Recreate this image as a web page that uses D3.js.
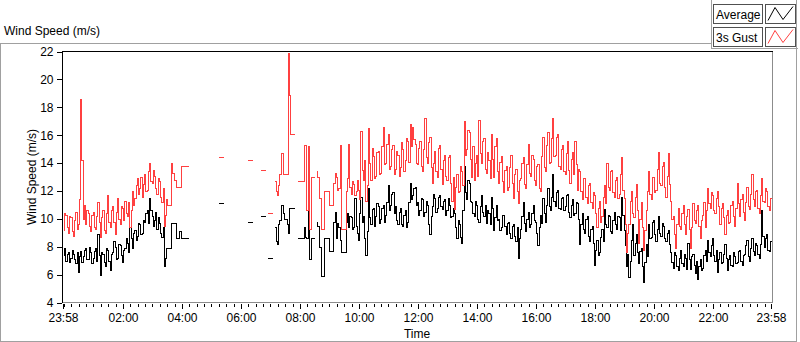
<!DOCTYPE html>
<html><head><meta charset="utf-8">
<script src="https://cdn.jsdelivr.net/npm/d3@7/dist/d3.min.js"></script>
<style>
body{margin:0;background:#fff;}
text{font-family:"Liberation Sans",Arial,sans-serif;font-size:12px;fill:#000;}
</style>
</head><body>
<svg id="chart" width="800" height="342"></svg>
<script>
// ---- data (2.5-minute samples starting 23:58; null = no data) ----
const seriesNames = ["Average", "3s Gust"];
const seriesColors = ["#000000", "#ff4040"];
const stepMinutes = 2.5;
const average = [
7.4,7.9,7.0,7.5,7.6,6.9,7.2,7.8,7.5,7.1,6.8,7.6,6.2,7.3,7.7,6.9,7.3,7.8,7.9,7.1,
7.1,8.0,7.6,6.8,7.2,7.7,7.9,7.0,8.9,7.4,6.0,7.6,7.5,6.9,6.6,7.9,7.8,7.0,6.3,7.5,
7.6,8.4,8.0,7.1,7.2,8.2,8.1,7.4,6.9,7.8,7.9,8.6,8.3,7.6,9.4,8.6,7.9,9.0,9.2,8.5,
8.8,9.7,9.6,8.9,9.0,9.9,9.8,10.4,10.6,9.7,11.5,10.6,10.2,9.5,9.9,10.5,9.3,10.1,9.7,9.0,
8.7,9.4,6.6,7.2,7.9,7.9,7.9,7.9,9.7,9.7,9.7,9.7,8.6,8.6,9.1,9.1,8.6,8.6,8.6,8.6,
8.6,8.6,null,null,null,null,null,null,null,null,null,null,null,null,null,null,null,null,null,null,
null,null,null,null,null,null,11.1,11.1,11.1,11.1,null,null,null,null,null,null,null,null,null,null,
null,null,null,null,null,null,null,null,null,null,9.8,9.8,9.8,9.8,null,null,null,null,null,null,
10.2,10.2,10.2,10.2,null,null,7.2,7.2,7.2,7.2,null,null,9.4,8.4,8.2,9.6,9.9,11.0,11.0,10.4,
10.0,10.0,9.6,9.0,10.8,10.8,10.8,10.8,null,null,8.6,8.6,8.6,8.6,8.6,8.6,9.4,8.7,8.6,11.0,
7.1,7.1,8.6,8.6,null,null,9.8,9.5,8.0,8.0,5.9,5.9,8.6,8.6,8.6,8.6,7.7,7.7,7.7,7.7,
9.8,10.5,8.6,9.7,9.4,8.5,7.6,7.6,7.6,7.6,9.8,10.4,9.4,10.2,10.1,9.3,9.4,11.5,9.5,9.0,
8.5,10.4,11.6,9.8,10.2,8.6,7.4,9.1,12.2,10.1,9.6,10.7,10.8,9.5,10.2,11.1,10.9,9.7,10.0,10.8,
11.0,9.8,10.3,11.2,12.4,10.6,11.0,11.8,11.9,10.4,10.9,9.9,9.6,10.5,10.8,9.6,9.5,10.3,10.6,9.4,
9.8,11.2,12.6,11.4,11.7,12.2,12.3,11.0,11.2,10.3,10.6,11.5,11.4,10.2,10.5,11.3,11.0,9.6,8.9,10.2,
10.9,11.8,11.5,10.5,10.8,11.6,11.7,10.9,10.7,11.3,11.4,10.3,10.6,11.5,11.0,10.1,10.2,10.8,10.4,9.4,
8.6,9.9,9.6,8.7,8.3,10.6,13.8,11.9,11.4,12.8,12.6,11.3,11.2,10.4,10.2,11.3,11.0,10.0,9.8,10.9,
11.7,10.5,10.2,11.0,9.7,10.6,10.4,9.6,11.6,10.8,9.2,10.1,11.0,9.9,10.0,9.2,9.4,10.3,10.3,9.5,
8.9,9.7,9.8,9.0,8.6,9.5,9.6,8.8,8.4,9.4,7.2,8.6,9.3,10.2,11.2,9.7,9.1,10.0,10.5,9.4,
9.6,10.4,11.0,9.9,9.8,9.0,8.1,9.4,10.3,9.7,11.5,10.4,9.8,11.0,12.2,10.9,10.6,11.6,13.2,11.3,
10.9,11.9,12.1,10.8,10.7,11.5,11.6,10.6,10.9,11.7,11.8,10.5,10.1,11.0,11.4,10.3,10.4,11.2,11.1,10.0,
8.2,9.6,10.4,9.3,9.0,10.0,10.2,8.8,8.4,9.3,9.5,8.3,6.7,7.8,8.5,7.4,7.6,8.7,9.3,8.4,
10.7,9.6,9.4,10.3,10.2,9.1,9.0,9.9,10.5,9.6,9.3,10.2,10.1,9.2,11.6,10.3,9.2,8.1,6.6,7.5,
5.8,7.0,8.5,9.6,7.4,8.3,8.9,7.6,6.8,7.7,7.9,6.6,5.5,6.9,8.2,7.3,9.6,8.6,8.7,9.8,
9.9,8.9,8.4,9.3,10.2,9.0,8.8,9.7,9.5,8.6,8.4,9.0,9.2,8.2,7.6,6.9,6.5,7.6,7.4,6.6,
6.3,7.2,7.8,6.8,6.6,7.5,7.2,6.4,8.3,7.1,6.4,7.3,7.5,6.7,6.1,7.0,5.7,6.6,7.1,6.3,
6.5,7.4,7.8,7.0,8.5,7.6,7.3,8.1,8.6,7.4,7.0,7.8,6.2,7.1,7.6,6.8,6.9,7.5,8.2,7.2,
6.3,7.1,7.4,6.7,6.6,7.6,7.3,6.8,6.9,7.7,7.8,7.0,6.7,7.4,7.5,8.1,8.5,7.3,7.0,7.9,
8.6,7.7,7.4,8.3,8.1,7.5,7.2,8.2,10.6,8.8,8.0,8.6,8.9,7.8,7.7,8.4
];
const gust = [
9.2,10.4,10.3,9.4,9.0,10.2,10.1,9.1,8.8,9.9,10.5,9.3,9.6,11.4,18.6,14.2,10.0,11.0,9.6,10.6,
10.4,9.5,9.1,10.3,10.5,9.4,9.3,10.2,11.2,9.8,8.7,10.1,10.6,9.2,9.0,10.4,11.7,9.8,9.4,10.6,
10.9,9.8,8.9,10.5,11.5,10.0,9.6,10.9,10.8,9.9,11.3,10.4,10.2,11.2,9.4,10.6,12.0,11.0,11.5,12.4,
12.9,11.8,12.2,13.0,11.6,12.5,13.2,12.0,12.1,13.4,14.0,12.7,12.6,13.5,13.1,12.2,11.8,12.9,12.7,11.6,
11.2,12.2,9.5,10.3,11.4,11.0,11.0,11.0,14.0,13.3,12.8,12.8,12.3,12.3,12.3,12.3,13.8,13.8,13.8,13.8,
13.8,13.8,null,null,null,null,null,null,null,null,null,null,null,null,null,null,null,null,null,null,
null,null,null,null,null,null,14.4,14.4,14.4,14.4,null,null,null,null,null,null,null,null,null,null,
null,null,null,null,null,null,null,null,null,null,14.2,14.2,14.2,14.2,null,null,null,null,null,null,
13.5,13.5,13.5,13.5,null,null,10.4,10.4,10.4,10.4,null,null,12.7,12.0,11.7,12.4,13.2,14.7,14.7,13.2,
13.2,13.2,13.2,21.9,18.9,16.1,16.1,16.1,null,null,12.7,12.7,12.7,12.7,12.7,12.7,15.3,15.3,10.6,15.2,
9.3,9.3,13.0,13.0,null,null,13.4,13.0,11.5,11.5,9.3,9.3,12.0,12.0,12.0,12.0,11.0,11.0,11.0,11.0,
12.6,13.3,13.0,12.1,12.2,15.3,9.3,9.3,9.3,9.3,12.0,12.9,15.4,12.3,11.8,12.7,12.5,11.7,12.0,12.8,
12.1,11.4,16.3,13.5,12.8,14.2,11.3,12.4,16.5,14.0,12.8,15.1,14.5,12.9,13.1,14.8,14.9,13.2,13.3,15.2,
16.6,13.9,14.0,15.4,16.1,13.6,13.8,15.0,15.3,13.2,13.6,14.9,14.6,13.1,13.7,15.5,15.0,13.4,14.2,15.8,
15.6,14.1,16.8,15.2,16.6,15.7,15.4,14.0,13.9,15.1,15.6,13.8,13.4,15.0,17.2,14.4,14.0,15.5,15.9,13.7,
12.6,14.0,14.9,13.4,13.0,15.1,15.3,13.6,12.5,14.2,14.6,13.1,12.8,14.4,14.6,12.6,11.3,13.0,10.7,12.3,
13.2,11.9,12.0,13.8,13.4,12.4,17.0,14.6,15.0,16.4,16.2,14.3,13.0,15.2,12.8,14.0,14.6,13.1,17.1,14.7,
14.0,15.6,15.8,13.6,13.3,14.8,14.2,12.9,16.1,14.3,13.0,15.2,15.8,13.4,12.6,14.1,14.5,12.7,11.9,13.5,
13.8,12.1,12.3,13.7,14.6,12.6,11.5,13.2,13.6,12.0,11.1,12.8,12.9,14.0,14.4,12.5,12.2,13.9,15.4,13.3,
13.1,14.6,14.3,12.8,12.4,13.8,13.9,12.2,12.0,14.5,15.9,13.7,13.4,15.3,16.2,14.0,14.1,15.8,17.2,14.5,
14.6,15.9,16.1,13.8,13.6,15.0,15.3,13.4,13.2,14.7,15.6,13.5,12.6,14.3,14.8,13.2,15.6,13.9,12.1,13.6,
13.4,12.0,11.4,12.9,12.9,11.6,11.1,12.4,12.6,11.2,10.8,11.9,11.7,10.4,9.4,10.8,11.3,9.8,10.2,11.6,
12.4,11.1,14.0,12.3,12.1,13.4,13.5,11.9,11.6,12.8,13.0,11.5,11.8,13.2,14.4,12.1,11.5,9.6,7.6,9.0,
9.6,11.3,12.0,10.4,10.1,11.6,12.5,10.6,8.3,10.0,11.2,9.4,7.8,9.2,10.6,12.0,13.4,11.8,11.4,13.0,
13.0,11.9,12.1,13.6,14.8,12.6,12.4,13.8,14.1,12.3,11.6,13.1,14.7,12.5,11.3,10.0,10.2,8.9,7.9,9.6,
10.8,9.5,9.3,10.4,11.0,9.6,8.9,10.2,10.7,9.3,7.9,9.4,11.1,9.9,9.7,10.6,11.0,9.5,8.6,9.9,
10.3,11.2,9.4,10.6,12.2,11.1,10.8,11.9,11.7,10.6,10.4,11.5,12.0,10.9,9.6,10.8,11.1,10.1,8.9,10.3,
10.6,9.7,9.8,11.0,11.3,10.2,9.5,10.8,12.6,11.1,10.2,11.4,11.8,10.5,9.9,11.2,12.3,10.9,10.7,11.8,
13.2,11.4,10.9,12.0,12.1,10.8,10.4,11.7,12.9,11.3,11.2,12.2,12.0,10.9,10.6,11.5
];
const yTicks = [4, 6, 8, 10, 12, 14, 16, 18, 20, 22];
const xMajorLabels = ["23:58","02:00","04:00","06:00","08:00","10:00","12:00","14:00","16:00","18:00","20:00","22:00","23:58"];
const chartTitle = "Wind Speed (m/s)";
const yTitle = "Wind Speed (m/s)";
const xTitle = "Time";

// ---- setup ----
const svg = d3.select("#chart");
const t0 = new Date(2020, 0, 1, 23, 58);
const t1 = new Date(+t0 + 24 * 3600e3);
const x = d3.scaleTime().domain([t0, t1]).range([63, 771]);
const y = d3.scaleLinear().domain([4, 22]).range([302.5, 51.5]);

// panel frames
const frame = svg.append("g").attr("fill", "none").attr("stroke", "#a0a0a0").attr("shape-rendering", "crispEdges");
frame.append("path").attr("d", "M0.5,341.5 V43.5 H711.5");
frame.append("path").attr("d", "M711.5,0 V48.5 H797.5");
frame.append("path").attr("d", "M796.5,0 V341.5 H0.5");

svg.append("text").attr("x", 4).attr("y", 35).text(chartTitle);

// legend
const legend = svg.append("g");
seriesNames.forEach((name, k) => {
  const top = 4.5 + k * 23;
  legend.append("rect").attr("x", 713.5).attr("y", top).attr("width", 49).attr("height", 19)
    .attr("fill", "#fff").attr("stroke", "#505050").attr("shape-rendering", "crispEdges");
  legend.append("text").attr("x", 716).attr("y", top + 14).text(name);
  legend.append("rect").attr("x", 765.5).attr("y", top).attr("width", 30).attr("height", 19)
    .attr("fill", "#fff").attr("stroke", "#505050").attr("shape-rendering", "crispEdges");
  legend.append("path").attr("d", `M768,${top+16} L775,${top+3} L783,${top+15} L793,${top+2}`)
    .attr("fill", "none").attr("stroke", seriesColors[k]).attr("stroke-width", 1);
});

// plot frame
const pf = svg.append("g").attr("shape-rendering", "crispEdges").attr("fill", "none");
pf.append("path").attr("d", `M62.5,${y(4)} V${y(22)} H772.5`).attr("stroke", "#000");
pf.append("path").attr("d", `M772.5,${y(22)} V${y(4)} H62.5`).attr("stroke", "#8c8c8c");

// y axis
const yAxis = d3.axisLeft(y).tickValues(yTicks).tickSize(5).tickPadding(3).tickFormat(d3.format("d"));
const gy = svg.append("g").attr("transform", "translate(61.5,0)").call(yAxis);
gy.select(".domain").remove();
gy.selectAll("line").attr("stroke", "#000").attr("shape-rendering", "crispEdges");
gy.selectAll("text").style("font-family", '"Liberation Sans",Arial,sans-serif').style("font-size", "12px").attr("fill", "#0b0b2a");

// x axis
const majorDates = xMajorLabels.map((lab, k) => {
  if (k === 0) return t0;
  if (k === xMajorLabels.length - 1) return t1;
  const [h, m] = lab.split(":").map(Number);
  return new Date(2020, 0, 2, h, m);
});
const minorDates = d3.timeMinute.every(15).range(new Date(2020, 0, 2, 0, 0), t1);
const gxMinor = svg.append("g").attr("transform", "translate(0,304)")
  .call(d3.axisBottom(x).tickValues(minorDates).tickSize(3).tickFormat(""));
gxMinor.select(".domain").remove();
gxMinor.selectAll("line").attr("stroke", "#000").attr("shape-rendering", "crispEdges");
const gx = svg.append("g").attr("transform", "translate(0,304)")
  .call(d3.axisBottom(x).tickValues(majorDates).tickSize(5).tickPadding(4)
    .tickFormat((d, k) => xMajorLabels[k]));
gx.select(".domain").remove();
gx.selectAll("line").attr("stroke", "#000").attr("stroke-width", 1.5).attr("shape-rendering", "crispEdges");
gx.selectAll("text").style("font-family", '"Liberation Sans",Arial,sans-serif').style("font-size", "12px").attr("fill", "#0b0b2a");

svg.append("text").attr("x", 417).attr("y", 338).attr("text-anchor", "middle").text(xTitle);
svg.append("text").attr("transform", "translate(36,177) rotate(-90)").attr("text-anchor", "middle").text(yTitle);

// series: each sample holds its value over its own interval
const stepMs = stepMinutes * 60e3;
function runs(values) {
  const out = [];
  let cur = null;
  values.forEach((v, i) => {
    if (v == null) { cur = null; return; }
    if (!cur) { cur = []; out.push(cur); }
    cur.push({ t: new Date(+t0 + i * stepMs), v });
  });
  out.forEach(r => { const last = r[r.length - 1]; r.push({ t: new Date(+last.t + stepMs), v: last.v }); });
  return out;
}
const line = d3.line().x(d => Math.round(x(d.t)) + 0.5).y(d => Math.round(y(d.v)) + 0.5).curve(d3.curveStepAfter);
const plot = svg.append("g");
[average, gust].forEach((vals, k) => {
  plot.append("g").selectAll("path").data(runs(vals)).join("path")
    .attr("d", line).attr("fill", "none").attr("stroke", seriesColors[k]).attr("stroke-width", 1)
    .attr("shape-rendering", "crispEdges");
});
</script>
</body></html>
